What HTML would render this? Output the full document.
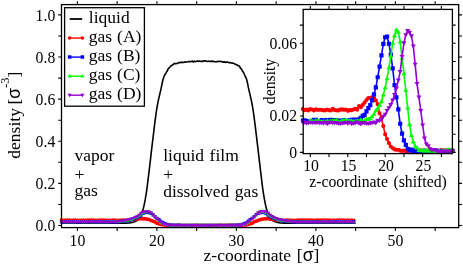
<!DOCTYPE html>
<html><head><meta charset="utf-8"><title>density profile</title>
<style>html,body{margin:0;padding:0;background:#fff;overflow:hidden}svg{display:block;will-change:transform;font-family:"Liberation Serif",serif;font-size:17.5px}</style>
</head><body>
<svg width="463" height="264" viewBox="0 0 463 264" fill="#000">
<rect width="463" height="264" fill="#fff"/>
<clipPath id="cm"><rect x="59.5" y="4.6" width="401.2" height="224.0"/></clipPath>
<g clip-path="url(#cm)">
<polyline points="61.50,223.29 62.30,223.29 63.09,223.29 63.88,223.29 64.68,223.29 65.47,223.29 66.27,223.29 67.06,223.29 67.86,223.29 68.65,223.29 69.45,223.29 70.24,223.29 71.04,223.29 71.83,223.29 72.63,223.29 73.42,223.29 74.22,223.29 75.01,223.29 75.81,223.29 76.60,223.29 77.40,223.29 78.19,223.29 78.99,223.29 79.78,223.29 80.58,223.29 81.37,223.29 82.17,223.29 82.96,223.29 83.76,223.29 84.55,223.29 85.35,223.29 86.14,223.29 86.94,223.29 87.73,223.29 88.53,223.29 89.32,223.29 90.12,223.29 90.91,223.29 91.71,223.29 92.50,223.29 93.30,223.29 94.09,223.29 94.89,223.29 95.68,223.29 96.48,223.29 97.27,223.29 98.07,223.29 98.86,223.29 99.66,223.29 100.45,223.29 101.25,223.29 102.04,223.29 102.84,223.29 103.63,223.29 104.43,223.29 105.22,223.29 106.02,223.29 106.81,223.29 107.61,223.29 108.40,223.29 109.20,223.29 109.99,223.29 110.79,223.29 111.58,223.29 112.38,223.29 113.17,223.29 113.97,223.29 114.76,223.29 115.56,223.28 116.35,223.28 117.15,223.28 117.94,223.27 118.74,223.27 119.53,223.26 120.33,223.26 121.12,223.25 121.92,223.24 122.71,223.22 123.51,223.21 124.30,223.18 125.10,223.16 125.89,223.12 126.69,223.09 127.48,223.05 128.28,223.01 129.07,222.95 129.87,222.86 130.66,222.74 131.46,222.59 132.25,222.40 133.05,222.19 133.84,221.94 134.64,221.66 135.43,221.34 136.23,221.00 137.02,220.53 137.82,219.80 138.61,218.80 139.41,217.56 140.20,216.11 141.00,214.47 141.79,212.66 142.59,210.69 143.38,208.21 144.18,204.83 144.97,200.78 145.77,196.33 146.56,191.36 147.36,185.42 148.15,178.93 148.95,172.31 149.74,165.74 150.54,158.87 151.33,151.92 152.13,145.18 152.92,138.65 153.72,132.02 154.51,125.44 155.31,119.13 156.10,113.26 156.90,108.03 157.69,103.57 158.49,99.71 159.28,96.20 160.08,92.84 160.87,89.41 161.67,85.63 162.46,81.77 163.26,78.83 164.05,76.55 164.85,74.64 165.64,73.75 166.44,72.16 167.23,70.98 168.03,69.11 168.82,68.13 169.62,67.34 170.41,66.53 171.21,65.62 172.00,65.35 172.80,64.94 173.59,64.21 174.39,63.38 175.18,63.78 175.98,63.60 176.77,63.54 177.57,63.39 178.36,62.75 179.16,62.52 179.95,62.60 180.75,62.40 181.54,62.34 182.34,62.24 183.13,62.57 183.93,62.21 184.72,61.99 185.52,62.14 186.31,61.99 187.11,62.01 187.90,61.83 188.70,61.48 189.49,61.76 190.29,61.66 191.08,61.38 191.88,61.40 192.67,61.11 193.47,62.04 194.26,61.28 195.06,61.60 195.85,61.43 196.65,61.23 197.44,61.15 198.24,61.15 199.03,61.35 199.83,60.97 200.62,61.43 201.42,61.38 202.21,61.13 203.01,61.46 203.80,60.77 204.60,61.06 205.39,60.76 206.19,61.32 206.98,61.42 207.78,61.29 208.57,61.16 209.37,61.51 210.16,61.28 210.96,61.40 211.75,61.01 212.55,61.60 213.34,61.19 214.14,61.63 214.93,61.73 215.73,61.68 216.52,61.83 217.32,61.51 218.11,61.31 218.91,61.56 219.70,61.48 220.50,61.26 221.29,61.64 222.09,61.72 222.88,61.89 223.68,62.30 224.47,61.78 225.27,62.49 226.06,61.97 226.86,62.23 227.65,62.03 228.45,62.43 229.24,62.73 230.04,62.56 230.83,62.93 231.63,62.99 232.42,63.11 233.22,63.36 234.01,63.61 234.81,64.04 235.60,64.18 236.40,65.01 237.19,64.92 237.99,65.69 238.78,65.72 239.58,66.41 240.37,68.15 241.17,68.73 241.96,70.03 242.76,71.57 243.55,72.51 244.35,74.18 245.14,76.10 245.94,77.59 246.73,79.84 247.53,83.26 248.32,87.20 249.12,90.81 249.91,94.18 250.71,97.57 251.50,101.20 252.30,105.27 253.09,110.03 253.89,115.54 254.68,121.61 255.48,128.05 256.27,134.67 257.07,141.28 257.86,147.83 258.66,154.69 259.45,161.64 260.25,168.41 261.04,174.95 261.84,181.57 262.63,187.89 263.43,193.48 264.22,198.14 265.02,202.46 265.81,206.27 266.61,209.33 267.40,211.49 268.20,213.40 268.99,215.15 269.79,216.72 270.58,218.08 271.38,219.23 272.17,220.12 272.97,220.75 273.76,221.14 274.56,221.47 275.35,221.77 276.15,222.04 276.94,222.28 277.74,222.48 278.53,222.65 279.33,222.79 280.12,222.90 280.92,222.98 281.71,223.02 282.51,223.07 283.30,223.10 284.10,223.14 284.89,223.17 285.69,223.19 286.48,223.21 287.28,223.23 288.07,223.24 288.87,223.25 289.66,223.26 290.46,223.27 291.25,223.27 292.05,223.27 292.84,223.28 293.64,223.28 294.43,223.28 295.23,223.29 296.02,223.29 296.82,223.29 297.61,223.29 298.41,223.29 299.20,223.29 300.00,223.29 300.79,223.29 301.59,223.29 302.38,223.29 303.18,223.29 303.97,223.29 304.77,223.29 305.56,223.29 306.36,223.29 307.15,223.29 307.95,223.29 308.74,223.29 309.54,223.29 310.33,223.29 311.13,223.29 311.92,223.29 312.72,223.29 313.51,223.29 314.31,223.29 315.10,223.29 315.90,223.29 316.69,223.29 317.49,223.29 318.28,223.29 319.08,223.29 319.87,223.29 320.67,223.29 321.46,223.29 322.26,223.29 323.05,223.29 323.85,223.29 324.64,223.29 325.44,223.29 326.23,223.29 327.03,223.29 327.82,223.29 328.62,223.29 329.41,223.29 330.21,223.29 331.00,223.29 331.80,223.29 332.59,223.29 333.39,223.29 334.18,223.29 334.98,223.29 335.77,223.29 336.57,223.29 337.36,223.29 338.16,223.29 338.95,223.29 339.75,223.29 340.54,223.29 341.34,223.29 342.13,223.29 342.93,223.29 343.72,223.29 344.52,223.29 345.31,223.29 346.11,223.29 346.90,223.29 347.70,223.29 348.49,223.29 349.29,223.29 350.08,223.29 350.88,223.29 351.67,223.29 352.47,223.29 353.26,223.29 354.06,223.29 354.85,223.29 355.65,223.29" fill="none" stroke="#000" stroke-width="1.6" stroke-linejoin="round"/>
<polyline points="61.50,220.27 63.49,220.35 65.48,220.23 67.46,220.26 69.45,220.23 71.44,220.32 73.43,220.17 75.41,220.25 77.40,220.28 79.39,220.31 81.38,220.29 83.36,220.22 85.35,220.29 87.34,220.21 89.33,220.24 91.31,220.19 93.30,220.23 95.29,220.28 97.28,220.40 99.26,220.26 101.25,220.23 103.24,220.27 105.23,220.24 107.21,220.31 109.20,220.30 111.19,220.34 113.18,220.19 115.16,220.27 117.15,220.31 119.14,220.36 121.12,220.27 123.11,220.14 125.10,220.16 127.09,220.18 129.08,219.94 131.06,219.82 133.05,219.68 135.04,219.46 137.03,219.14 139.01,218.92 141.00,218.69 142.99,218.76 144.98,218.77 146.96,219.05 148.95,219.28 150.94,220.44 152.93,221.12 154.91,221.92 156.90,223.22 158.89,223.80 160.88,224.28 162.86,224.65 164.85,224.97 166.84,225.13 168.82,225.16 170.81,225.19 172.80,225.29 174.79,225.31 176.78,225.30 178.76,225.25 180.75,225.38 182.74,225.40 184.73,225.31 186.71,225.38 188.70,225.35 190.69,225.31 192.68,225.29 194.66,225.39 196.65,225.27 198.64,225.43 200.62,225.29 202.61,225.42 204.60,225.40 206.59,225.28 208.58,225.35 210.56,225.37 212.55,225.35 214.54,225.29 216.53,225.32 218.51,225.32 220.50,225.25 222.49,225.36 224.48,225.34 226.46,225.35 228.45,225.24 230.44,225.25 232.43,225.23 234.41,225.31 236.40,225.31 238.39,225.21 240.38,225.25 242.36,225.07 244.35,224.89 246.34,224.73 248.33,224.33 250.31,223.83 252.30,223.09 254.29,221.82 256.27,221.17 258.26,220.31 260.25,219.55 262.24,219.05 264.23,218.87 266.21,218.78 268.20,218.69 270.19,219.05 272.18,219.23 274.16,219.50 276.15,219.82 278.14,219.86 280.12,219.97 282.11,220.22 284.10,220.28 286.09,220.19 288.08,220.26 290.06,220.35 292.05,220.30 294.04,220.28 296.02,220.29 298.01,220.22 300.00,220.25 301.99,220.17 303.98,220.19 305.96,220.23 307.95,220.21 309.94,220.19 311.93,220.23 313.91,220.35 315.90,220.22 317.89,220.27 319.88,220.17 321.86,220.27 323.85,220.24 325.84,220.26 327.83,220.17 329.81,220.27 331.80,220.29 333.79,220.26 335.77,220.30 337.76,220.27 339.75,220.28 341.74,220.26 343.73,220.16 345.71,220.30 347.70,220.27 349.69,220.29 351.68,220.23 353.66,220.35" fill="none" stroke="#ff0000" stroke-width="1.4" stroke-linejoin="round"/><path d="M59.60 220.27a1.9 1.9 0 1 0 3.8 0a1.9 1.9 0 1 0 -3.8 0zM61.59 220.35a1.9 1.9 0 1 0 3.8 0a1.9 1.9 0 1 0 -3.8 0zM63.58 220.23a1.9 1.9 0 1 0 3.8 0a1.9 1.9 0 1 0 -3.8 0zM65.56 220.26a1.9 1.9 0 1 0 3.8 0a1.9 1.9 0 1 0 -3.8 0zM67.55 220.23a1.9 1.9 0 1 0 3.8 0a1.9 1.9 0 1 0 -3.8 0zM69.54 220.32a1.9 1.9 0 1 0 3.8 0a1.9 1.9 0 1 0 -3.8 0zM71.53 220.17a1.9 1.9 0 1 0 3.8 0a1.9 1.9 0 1 0 -3.8 0zM73.51 220.25a1.9 1.9 0 1 0 3.8 0a1.9 1.9 0 1 0 -3.8 0zM75.50 220.28a1.9 1.9 0 1 0 3.8 0a1.9 1.9 0 1 0 -3.8 0zM77.49 220.31a1.9 1.9 0 1 0 3.8 0a1.9 1.9 0 1 0 -3.8 0zM79.47 220.29a1.9 1.9 0 1 0 3.8 0a1.9 1.9 0 1 0 -3.8 0zM81.46 220.22a1.9 1.9 0 1 0 3.8 0a1.9 1.9 0 1 0 -3.8 0zM83.45 220.29a1.9 1.9 0 1 0 3.8 0a1.9 1.9 0 1 0 -3.8 0zM85.44 220.21a1.9 1.9 0 1 0 3.8 0a1.9 1.9 0 1 0 -3.8 0zM87.42 220.24a1.9 1.9 0 1 0 3.8 0a1.9 1.9 0 1 0 -3.8 0zM89.41 220.19a1.9 1.9 0 1 0 3.8 0a1.9 1.9 0 1 0 -3.8 0zM91.40 220.23a1.9 1.9 0 1 0 3.8 0a1.9 1.9 0 1 0 -3.8 0zM93.39 220.28a1.9 1.9 0 1 0 3.8 0a1.9 1.9 0 1 0 -3.8 0zM95.38 220.40a1.9 1.9 0 1 0 3.8 0a1.9 1.9 0 1 0 -3.8 0zM97.36 220.26a1.9 1.9 0 1 0 3.8 0a1.9 1.9 0 1 0 -3.8 0zM99.35 220.23a1.9 1.9 0 1 0 3.8 0a1.9 1.9 0 1 0 -3.8 0zM101.34 220.27a1.9 1.9 0 1 0 3.8 0a1.9 1.9 0 1 0 -3.8 0zM103.33 220.24a1.9 1.9 0 1 0 3.8 0a1.9 1.9 0 1 0 -3.8 0zM105.31 220.31a1.9 1.9 0 1 0 3.8 0a1.9 1.9 0 1 0 -3.8 0zM107.30 220.30a1.9 1.9 0 1 0 3.8 0a1.9 1.9 0 1 0 -3.8 0zM109.29 220.34a1.9 1.9 0 1 0 3.8 0a1.9 1.9 0 1 0 -3.8 0zM111.28 220.19a1.9 1.9 0 1 0 3.8 0a1.9 1.9 0 1 0 -3.8 0zM113.26 220.27a1.9 1.9 0 1 0 3.8 0a1.9 1.9 0 1 0 -3.8 0zM115.25 220.31a1.9 1.9 0 1 0 3.8 0a1.9 1.9 0 1 0 -3.8 0zM117.24 220.36a1.9 1.9 0 1 0 3.8 0a1.9 1.9 0 1 0 -3.8 0zM119.22 220.27a1.9 1.9 0 1 0 3.8 0a1.9 1.9 0 1 0 -3.8 0zM121.21 220.14a1.9 1.9 0 1 0 3.8 0a1.9 1.9 0 1 0 -3.8 0zM123.20 220.16a1.9 1.9 0 1 0 3.8 0a1.9 1.9 0 1 0 -3.8 0zM125.19 220.18a1.9 1.9 0 1 0 3.8 0a1.9 1.9 0 1 0 -3.8 0zM127.18 219.94a1.9 1.9 0 1 0 3.8 0a1.9 1.9 0 1 0 -3.8 0zM129.16 219.82a1.9 1.9 0 1 0 3.8 0a1.9 1.9 0 1 0 -3.8 0zM131.15 219.68a1.9 1.9 0 1 0 3.8 0a1.9 1.9 0 1 0 -3.8 0zM133.14 219.46a1.9 1.9 0 1 0 3.8 0a1.9 1.9 0 1 0 -3.8 0zM135.12 219.14a1.9 1.9 0 1 0 3.8 0a1.9 1.9 0 1 0 -3.8 0zM137.11 218.92a1.9 1.9 0 1 0 3.8 0a1.9 1.9 0 1 0 -3.8 0zM139.10 218.69a1.9 1.9 0 1 0 3.8 0a1.9 1.9 0 1 0 -3.8 0zM141.09 218.76a1.9 1.9 0 1 0 3.8 0a1.9 1.9 0 1 0 -3.8 0zM143.08 218.77a1.9 1.9 0 1 0 3.8 0a1.9 1.9 0 1 0 -3.8 0zM145.06 219.05a1.9 1.9 0 1 0 3.8 0a1.9 1.9 0 1 0 -3.8 0zM147.05 219.28a1.9 1.9 0 1 0 3.8 0a1.9 1.9 0 1 0 -3.8 0zM149.04 220.44a1.9 1.9 0 1 0 3.8 0a1.9 1.9 0 1 0 -3.8 0zM151.03 221.12a1.9 1.9 0 1 0 3.8 0a1.9 1.9 0 1 0 -3.8 0zM153.01 221.92a1.9 1.9 0 1 0 3.8 0a1.9 1.9 0 1 0 -3.8 0zM155.00 223.22a1.9 1.9 0 1 0 3.8 0a1.9 1.9 0 1 0 -3.8 0zM156.99 223.80a1.9 1.9 0 1 0 3.8 0a1.9 1.9 0 1 0 -3.8 0zM158.97 224.28a1.9 1.9 0 1 0 3.8 0a1.9 1.9 0 1 0 -3.8 0zM160.96 224.65a1.9 1.9 0 1 0 3.8 0a1.9 1.9 0 1 0 -3.8 0zM162.95 224.97a1.9 1.9 0 1 0 3.8 0a1.9 1.9 0 1 0 -3.8 0zM164.94 225.13a1.9 1.9 0 1 0 3.8 0a1.9 1.9 0 1 0 -3.8 0zM166.92 225.16a1.9 1.9 0 1 0 3.8 0a1.9 1.9 0 1 0 -3.8 0zM168.91 225.19a1.9 1.9 0 1 0 3.8 0a1.9 1.9 0 1 0 -3.8 0zM170.90 225.29a1.9 1.9 0 1 0 3.8 0a1.9 1.9 0 1 0 -3.8 0zM172.89 225.31a1.9 1.9 0 1 0 3.8 0a1.9 1.9 0 1 0 -3.8 0zM174.88 225.30a1.9 1.9 0 1 0 3.8 0a1.9 1.9 0 1 0 -3.8 0zM176.86 225.25a1.9 1.9 0 1 0 3.8 0a1.9 1.9 0 1 0 -3.8 0zM178.85 225.38a1.9 1.9 0 1 0 3.8 0a1.9 1.9 0 1 0 -3.8 0zM180.84 225.40a1.9 1.9 0 1 0 3.8 0a1.9 1.9 0 1 0 -3.8 0zM182.83 225.31a1.9 1.9 0 1 0 3.8 0a1.9 1.9 0 1 0 -3.8 0zM184.81 225.38a1.9 1.9 0 1 0 3.8 0a1.9 1.9 0 1 0 -3.8 0zM186.80 225.35a1.9 1.9 0 1 0 3.8 0a1.9 1.9 0 1 0 -3.8 0zM188.79 225.31a1.9 1.9 0 1 0 3.8 0a1.9 1.9 0 1 0 -3.8 0zM190.78 225.29a1.9 1.9 0 1 0 3.8 0a1.9 1.9 0 1 0 -3.8 0zM192.76 225.39a1.9 1.9 0 1 0 3.8 0a1.9 1.9 0 1 0 -3.8 0zM194.75 225.27a1.9 1.9 0 1 0 3.8 0a1.9 1.9 0 1 0 -3.8 0zM196.74 225.43a1.9 1.9 0 1 0 3.8 0a1.9 1.9 0 1 0 -3.8 0zM198.72 225.29a1.9 1.9 0 1 0 3.8 0a1.9 1.9 0 1 0 -3.8 0zM200.71 225.42a1.9 1.9 0 1 0 3.8 0a1.9 1.9 0 1 0 -3.8 0zM202.70 225.40a1.9 1.9 0 1 0 3.8 0a1.9 1.9 0 1 0 -3.8 0zM204.69 225.28a1.9 1.9 0 1 0 3.8 0a1.9 1.9 0 1 0 -3.8 0zM206.68 225.35a1.9 1.9 0 1 0 3.8 0a1.9 1.9 0 1 0 -3.8 0zM208.66 225.37a1.9 1.9 0 1 0 3.8 0a1.9 1.9 0 1 0 -3.8 0zM210.65 225.35a1.9 1.9 0 1 0 3.8 0a1.9 1.9 0 1 0 -3.8 0zM212.64 225.29a1.9 1.9 0 1 0 3.8 0a1.9 1.9 0 1 0 -3.8 0zM214.62 225.32a1.9 1.9 0 1 0 3.8 0a1.9 1.9 0 1 0 -3.8 0zM216.61 225.32a1.9 1.9 0 1 0 3.8 0a1.9 1.9 0 1 0 -3.8 0zM218.60 225.25a1.9 1.9 0 1 0 3.8 0a1.9 1.9 0 1 0 -3.8 0zM220.59 225.36a1.9 1.9 0 1 0 3.8 0a1.9 1.9 0 1 0 -3.8 0zM222.58 225.34a1.9 1.9 0 1 0 3.8 0a1.9 1.9 0 1 0 -3.8 0zM224.56 225.35a1.9 1.9 0 1 0 3.8 0a1.9 1.9 0 1 0 -3.8 0zM226.55 225.24a1.9 1.9 0 1 0 3.8 0a1.9 1.9 0 1 0 -3.8 0zM228.54 225.25a1.9 1.9 0 1 0 3.8 0a1.9 1.9 0 1 0 -3.8 0zM230.53 225.23a1.9 1.9 0 1 0 3.8 0a1.9 1.9 0 1 0 -3.8 0zM232.51 225.31a1.9 1.9 0 1 0 3.8 0a1.9 1.9 0 1 0 -3.8 0zM234.50 225.31a1.9 1.9 0 1 0 3.8 0a1.9 1.9 0 1 0 -3.8 0zM236.49 225.21a1.9 1.9 0 1 0 3.8 0a1.9 1.9 0 1 0 -3.8 0zM238.47 225.25a1.9 1.9 0 1 0 3.8 0a1.9 1.9 0 1 0 -3.8 0zM240.46 225.07a1.9 1.9 0 1 0 3.8 0a1.9 1.9 0 1 0 -3.8 0zM242.45 224.89a1.9 1.9 0 1 0 3.8 0a1.9 1.9 0 1 0 -3.8 0zM244.44 224.73a1.9 1.9 0 1 0 3.8 0a1.9 1.9 0 1 0 -3.8 0zM246.43 224.33a1.9 1.9 0 1 0 3.8 0a1.9 1.9 0 1 0 -3.8 0zM248.41 223.83a1.9 1.9 0 1 0 3.8 0a1.9 1.9 0 1 0 -3.8 0zM250.40 223.09a1.9 1.9 0 1 0 3.8 0a1.9 1.9 0 1 0 -3.8 0zM252.39 221.82a1.9 1.9 0 1 0 3.8 0a1.9 1.9 0 1 0 -3.8 0zM254.37 221.17a1.9 1.9 0 1 0 3.8 0a1.9 1.9 0 1 0 -3.8 0zM256.36 220.31a1.9 1.9 0 1 0 3.8 0a1.9 1.9 0 1 0 -3.8 0zM258.35 219.55a1.9 1.9 0 1 0 3.8 0a1.9 1.9 0 1 0 -3.8 0zM260.34 219.05a1.9 1.9 0 1 0 3.8 0a1.9 1.9 0 1 0 -3.8 0zM262.33 218.87a1.9 1.9 0 1 0 3.8 0a1.9 1.9 0 1 0 -3.8 0zM264.31 218.78a1.9 1.9 0 1 0 3.8 0a1.9 1.9 0 1 0 -3.8 0zM266.30 218.69a1.9 1.9 0 1 0 3.8 0a1.9 1.9 0 1 0 -3.8 0zM268.29 219.05a1.9 1.9 0 1 0 3.8 0a1.9 1.9 0 1 0 -3.8 0zM270.28 219.23a1.9 1.9 0 1 0 3.8 0a1.9 1.9 0 1 0 -3.8 0zM272.26 219.50a1.9 1.9 0 1 0 3.8 0a1.9 1.9 0 1 0 -3.8 0zM274.25 219.82a1.9 1.9 0 1 0 3.8 0a1.9 1.9 0 1 0 -3.8 0zM276.24 219.86a1.9 1.9 0 1 0 3.8 0a1.9 1.9 0 1 0 -3.8 0zM278.23 219.97a1.9 1.9 0 1 0 3.8 0a1.9 1.9 0 1 0 -3.8 0zM280.21 220.22a1.9 1.9 0 1 0 3.8 0a1.9 1.9 0 1 0 -3.8 0zM282.20 220.28a1.9 1.9 0 1 0 3.8 0a1.9 1.9 0 1 0 -3.8 0zM284.19 220.19a1.9 1.9 0 1 0 3.8 0a1.9 1.9 0 1 0 -3.8 0zM286.18 220.26a1.9 1.9 0 1 0 3.8 0a1.9 1.9 0 1 0 -3.8 0zM288.16 220.35a1.9 1.9 0 1 0 3.8 0a1.9 1.9 0 1 0 -3.8 0zM290.15 220.30a1.9 1.9 0 1 0 3.8 0a1.9 1.9 0 1 0 -3.8 0zM292.14 220.28a1.9 1.9 0 1 0 3.8 0a1.9 1.9 0 1 0 -3.8 0zM294.12 220.29a1.9 1.9 0 1 0 3.8 0a1.9 1.9 0 1 0 -3.8 0zM296.11 220.22a1.9 1.9 0 1 0 3.8 0a1.9 1.9 0 1 0 -3.8 0zM298.10 220.25a1.9 1.9 0 1 0 3.8 0a1.9 1.9 0 1 0 -3.8 0zM300.09 220.17a1.9 1.9 0 1 0 3.8 0a1.9 1.9 0 1 0 -3.8 0zM302.08 220.19a1.9 1.9 0 1 0 3.8 0a1.9 1.9 0 1 0 -3.8 0zM304.06 220.23a1.9 1.9 0 1 0 3.8 0a1.9 1.9 0 1 0 -3.8 0zM306.05 220.21a1.9 1.9 0 1 0 3.8 0a1.9 1.9 0 1 0 -3.8 0zM308.04 220.19a1.9 1.9 0 1 0 3.8 0a1.9 1.9 0 1 0 -3.8 0zM310.03 220.23a1.9 1.9 0 1 0 3.8 0a1.9 1.9 0 1 0 -3.8 0zM312.01 220.35a1.9 1.9 0 1 0 3.8 0a1.9 1.9 0 1 0 -3.8 0zM314.00 220.22a1.9 1.9 0 1 0 3.8 0a1.9 1.9 0 1 0 -3.8 0zM315.99 220.27a1.9 1.9 0 1 0 3.8 0a1.9 1.9 0 1 0 -3.8 0zM317.98 220.17a1.9 1.9 0 1 0 3.8 0a1.9 1.9 0 1 0 -3.8 0zM319.96 220.27a1.9 1.9 0 1 0 3.8 0a1.9 1.9 0 1 0 -3.8 0zM321.95 220.24a1.9 1.9 0 1 0 3.8 0a1.9 1.9 0 1 0 -3.8 0zM323.94 220.26a1.9 1.9 0 1 0 3.8 0a1.9 1.9 0 1 0 -3.8 0zM325.93 220.17a1.9 1.9 0 1 0 3.8 0a1.9 1.9 0 1 0 -3.8 0zM327.91 220.27a1.9 1.9 0 1 0 3.8 0a1.9 1.9 0 1 0 -3.8 0zM329.90 220.29a1.9 1.9 0 1 0 3.8 0a1.9 1.9 0 1 0 -3.8 0zM331.89 220.26a1.9 1.9 0 1 0 3.8 0a1.9 1.9 0 1 0 -3.8 0zM333.88 220.30a1.9 1.9 0 1 0 3.8 0a1.9 1.9 0 1 0 -3.8 0zM335.86 220.27a1.9 1.9 0 1 0 3.8 0a1.9 1.9 0 1 0 -3.8 0zM337.85 220.28a1.9 1.9 0 1 0 3.8 0a1.9 1.9 0 1 0 -3.8 0zM339.84 220.26a1.9 1.9 0 1 0 3.8 0a1.9 1.9 0 1 0 -3.8 0zM341.83 220.16a1.9 1.9 0 1 0 3.8 0a1.9 1.9 0 1 0 -3.8 0zM343.81 220.30a1.9 1.9 0 1 0 3.8 0a1.9 1.9 0 1 0 -3.8 0zM345.80 220.27a1.9 1.9 0 1 0 3.8 0a1.9 1.9 0 1 0 -3.8 0zM347.79 220.29a1.9 1.9 0 1 0 3.8 0a1.9 1.9 0 1 0 -3.8 0zM349.78 220.23a1.9 1.9 0 1 0 3.8 0a1.9 1.9 0 1 0 -3.8 0zM351.76 220.35a1.9 1.9 0 1 0 3.8 0a1.9 1.9 0 1 0 -3.8 0z" fill="#ff0000"/>
<polyline points="61.50,221.86 63.49,221.82 65.48,221.78 67.46,221.82 69.45,221.85 71.44,221.87 73.43,221.78 75.41,221.72 77.40,221.79 79.39,221.80 81.38,221.79 83.36,221.87 85.35,221.83 87.34,221.83 89.33,221.80 91.31,221.82 93.30,221.89 95.29,221.74 97.28,221.71 99.26,221.83 101.25,221.79 103.24,221.80 105.23,221.76 107.21,221.91 109.20,221.71 111.19,221.84 113.18,221.71 115.16,221.73 117.15,221.69 119.14,221.55 121.12,221.31 123.11,221.19 125.10,220.91 127.09,220.59 129.08,220.28 131.06,219.65 133.05,219.16 135.04,218.46 137.03,217.38 139.01,216.33 141.00,215.04 142.99,213.47 144.98,212.48 146.96,212.14 148.95,212.66 150.94,213.42 152.93,214.80 154.91,216.60 156.90,218.44 158.89,219.66 160.88,221.33 162.86,222.74 164.85,223.66 166.84,224.39 168.82,224.79 170.81,225.11 172.80,225.18 174.79,225.31 176.78,225.25 178.76,225.19 180.75,225.40 182.74,225.49 184.73,225.38 186.71,225.34 188.70,225.29 190.69,225.29 192.68,225.41 194.66,225.42 196.65,225.29 198.64,225.44 200.62,225.30 202.61,225.39 204.60,225.32 206.59,225.33 208.58,225.32 210.56,225.32 212.55,225.43 214.54,225.35 216.53,225.36 218.51,225.34 220.50,225.28 222.49,225.38 224.48,225.40 226.46,225.40 228.45,225.37 230.44,225.30 232.43,225.38 234.41,225.21 236.40,225.19 238.39,225.09 240.38,224.90 242.36,224.41 244.35,223.67 246.34,222.87 248.33,221.20 250.31,219.60 252.30,218.41 254.29,216.54 256.27,214.71 258.26,213.28 260.25,212.51 262.24,212.00 264.23,212.55 266.21,213.59 268.20,215.19 270.19,216.22 272.18,217.49 274.16,218.45 276.15,219.20 278.14,219.67 280.12,220.19 282.11,220.61 284.10,220.85 286.09,221.05 288.08,221.38 290.06,221.46 292.05,221.64 294.04,221.76 296.02,221.69 298.01,221.86 300.00,221.75 301.99,221.85 303.98,221.79 305.96,221.89 307.95,221.87 309.94,221.75 311.93,221.80 313.91,221.81 315.90,221.84 317.89,221.79 319.88,221.90 321.86,221.89 323.85,221.82 325.84,221.87 327.83,221.86 329.81,221.82 331.80,221.82 333.79,221.83 335.77,221.71 337.76,221.75 339.75,221.74 341.74,221.82 343.73,221.85 345.71,221.91 347.70,221.84 349.69,221.95 351.68,221.85 353.66,221.77" fill="none" stroke="#0000ff" stroke-width="1.4" stroke-linejoin="round"/><path d="M59.85 220.21h3.3v3.3h-3.3zM61.84 220.17h3.3v3.3h-3.3zM63.83 220.13h3.3v3.3h-3.3zM65.81 220.17h3.3v3.3h-3.3zM67.80 220.20h3.3v3.3h-3.3zM69.79 220.22h3.3v3.3h-3.3zM71.78 220.13h3.3v3.3h-3.3zM73.76 220.07h3.3v3.3h-3.3zM75.75 220.14h3.3v3.3h-3.3zM77.74 220.15h3.3v3.3h-3.3zM79.72 220.14h3.3v3.3h-3.3zM81.71 220.22h3.3v3.3h-3.3zM83.70 220.18h3.3v3.3h-3.3zM85.69 220.18h3.3v3.3h-3.3zM87.67 220.15h3.3v3.3h-3.3zM89.66 220.17h3.3v3.3h-3.3zM91.65 220.24h3.3v3.3h-3.3zM93.64 220.09h3.3v3.3h-3.3zM95.62 220.06h3.3v3.3h-3.3zM97.61 220.18h3.3v3.3h-3.3zM99.60 220.14h3.3v3.3h-3.3zM101.59 220.15h3.3v3.3h-3.3zM103.58 220.11h3.3v3.3h-3.3zM105.56 220.26h3.3v3.3h-3.3zM107.55 220.06h3.3v3.3h-3.3zM109.54 220.19h3.3v3.3h-3.3zM111.53 220.06h3.3v3.3h-3.3zM113.51 220.08h3.3v3.3h-3.3zM115.50 220.04h3.3v3.3h-3.3zM117.49 219.90h3.3v3.3h-3.3zM119.47 219.66h3.3v3.3h-3.3zM121.46 219.54h3.3v3.3h-3.3zM123.45 219.26h3.3v3.3h-3.3zM125.44 218.94h3.3v3.3h-3.3zM127.43 218.63h3.3v3.3h-3.3zM129.41 218.00h3.3v3.3h-3.3zM131.40 217.51h3.3v3.3h-3.3zM133.39 216.81h3.3v3.3h-3.3zM135.38 215.73h3.3v3.3h-3.3zM137.36 214.68h3.3v3.3h-3.3zM139.35 213.39h3.3v3.3h-3.3zM141.34 211.82h3.3v3.3h-3.3zM143.33 210.83h3.3v3.3h-3.3zM145.31 210.49h3.3v3.3h-3.3zM147.30 211.01h3.3v3.3h-3.3zM149.29 211.77h3.3v3.3h-3.3zM151.28 213.15h3.3v3.3h-3.3zM153.26 214.95h3.3v3.3h-3.3zM155.25 216.79h3.3v3.3h-3.3zM157.24 218.01h3.3v3.3h-3.3zM159.22 219.68h3.3v3.3h-3.3zM161.21 221.09h3.3v3.3h-3.3zM163.20 222.01h3.3v3.3h-3.3zM165.19 222.74h3.3v3.3h-3.3zM167.17 223.14h3.3v3.3h-3.3zM169.16 223.46h3.3v3.3h-3.3zM171.15 223.53h3.3v3.3h-3.3zM173.14 223.66h3.3v3.3h-3.3zM175.12 223.60h3.3v3.3h-3.3zM177.11 223.54h3.3v3.3h-3.3zM179.10 223.75h3.3v3.3h-3.3zM181.09 223.84h3.3v3.3h-3.3zM183.08 223.73h3.3v3.3h-3.3zM185.06 223.69h3.3v3.3h-3.3zM187.05 223.64h3.3v3.3h-3.3zM189.04 223.64h3.3v3.3h-3.3zM191.03 223.76h3.3v3.3h-3.3zM193.01 223.77h3.3v3.3h-3.3zM195.00 223.64h3.3v3.3h-3.3zM196.99 223.79h3.3v3.3h-3.3zM198.97 223.65h3.3v3.3h-3.3zM200.96 223.74h3.3v3.3h-3.3zM202.95 223.67h3.3v3.3h-3.3zM204.94 223.68h3.3v3.3h-3.3zM206.93 223.67h3.3v3.3h-3.3zM208.91 223.67h3.3v3.3h-3.3zM210.90 223.78h3.3v3.3h-3.3zM212.89 223.70h3.3v3.3h-3.3zM214.88 223.71h3.3v3.3h-3.3zM216.86 223.69h3.3v3.3h-3.3zM218.85 223.63h3.3v3.3h-3.3zM220.84 223.73h3.3v3.3h-3.3zM222.83 223.75h3.3v3.3h-3.3zM224.81 223.75h3.3v3.3h-3.3zM226.80 223.72h3.3v3.3h-3.3zM228.79 223.65h3.3v3.3h-3.3zM230.78 223.73h3.3v3.3h-3.3zM232.76 223.56h3.3v3.3h-3.3zM234.75 223.54h3.3v3.3h-3.3zM236.74 223.44h3.3v3.3h-3.3zM238.72 223.25h3.3v3.3h-3.3zM240.71 222.76h3.3v3.3h-3.3zM242.70 222.02h3.3v3.3h-3.3zM244.69 221.22h3.3v3.3h-3.3zM246.68 219.55h3.3v3.3h-3.3zM248.66 217.95h3.3v3.3h-3.3zM250.65 216.76h3.3v3.3h-3.3zM252.64 214.89h3.3v3.3h-3.3zM254.62 213.06h3.3v3.3h-3.3zM256.61 211.63h3.3v3.3h-3.3zM258.60 210.86h3.3v3.3h-3.3zM260.59 210.35h3.3v3.3h-3.3zM262.58 210.90h3.3v3.3h-3.3zM264.56 211.94h3.3v3.3h-3.3zM266.55 213.54h3.3v3.3h-3.3zM268.54 214.57h3.3v3.3h-3.3zM270.53 215.84h3.3v3.3h-3.3zM272.51 216.80h3.3v3.3h-3.3zM274.50 217.55h3.3v3.3h-3.3zM276.49 218.02h3.3v3.3h-3.3zM278.48 218.54h3.3v3.3h-3.3zM280.46 218.96h3.3v3.3h-3.3zM282.45 219.20h3.3v3.3h-3.3zM284.44 219.40h3.3v3.3h-3.3zM286.43 219.73h3.3v3.3h-3.3zM288.41 219.81h3.3v3.3h-3.3zM290.40 219.99h3.3v3.3h-3.3zM292.39 220.11h3.3v3.3h-3.3zM294.38 220.04h3.3v3.3h-3.3zM296.36 220.21h3.3v3.3h-3.3zM298.35 220.10h3.3v3.3h-3.3zM300.34 220.20h3.3v3.3h-3.3zM302.33 220.14h3.3v3.3h-3.3zM304.31 220.24h3.3v3.3h-3.3zM306.30 220.22h3.3v3.3h-3.3zM308.29 220.10h3.3v3.3h-3.3zM310.28 220.15h3.3v3.3h-3.3zM312.26 220.16h3.3v3.3h-3.3zM314.25 220.19h3.3v3.3h-3.3zM316.24 220.14h3.3v3.3h-3.3zM318.23 220.25h3.3v3.3h-3.3zM320.21 220.24h3.3v3.3h-3.3zM322.20 220.17h3.3v3.3h-3.3zM324.19 220.22h3.3v3.3h-3.3zM326.18 220.21h3.3v3.3h-3.3zM328.16 220.17h3.3v3.3h-3.3zM330.15 220.17h3.3v3.3h-3.3zM332.14 220.18h3.3v3.3h-3.3zM334.12 220.06h3.3v3.3h-3.3zM336.11 220.10h3.3v3.3h-3.3zM338.10 220.09h3.3v3.3h-3.3zM340.09 220.17h3.3v3.3h-3.3zM342.08 220.20h3.3v3.3h-3.3zM344.06 220.26h3.3v3.3h-3.3zM346.05 220.19h3.3v3.3h-3.3zM348.04 220.30h3.3v3.3h-3.3zM350.03 220.20h3.3v3.3h-3.3zM352.01 220.12h3.3v3.3h-3.3z" fill="#0000ff"/>
<polyline points="61.50,221.75 63.49,221.80 65.48,221.91 67.46,221.83 69.45,221.91 71.44,221.80 73.43,221.86 75.41,221.80 77.40,221.69 79.39,221.80 81.38,221.71 83.36,221.85 85.35,221.88 87.34,221.77 89.33,221.75 91.31,221.89 93.30,221.85 95.29,221.95 97.28,221.87 99.26,221.80 101.25,221.86 103.24,221.89 105.23,221.95 107.21,221.83 109.20,221.79 111.19,221.77 113.18,221.74 115.16,221.78 117.15,221.49 119.14,221.44 121.12,221.23 123.11,220.93 125.10,220.84 127.09,220.38 129.08,219.99 131.06,219.42 133.05,218.66 135.04,217.78 137.03,216.78 139.01,215.45 141.00,214.09 142.99,212.73 144.98,211.90 146.96,211.43 148.95,211.77 150.94,212.82 152.93,214.79 154.91,216.79 156.90,218.44 158.89,220.78 160.88,222.50 162.86,223.48 164.85,224.38 166.84,224.77 168.82,225.12 170.81,225.10 172.80,225.33 174.79,225.27 176.78,225.30 178.76,225.38 180.75,225.26 182.74,225.40 184.73,225.36 186.71,225.32 188.70,225.34 190.69,225.29 192.68,225.26 194.66,225.34 196.65,225.35 198.64,225.35 200.62,225.34 202.61,225.27 204.60,225.34 206.59,225.30 208.58,225.33 210.56,225.37 212.55,225.26 214.54,225.38 216.53,225.32 218.51,225.22 220.50,225.38 222.49,225.32 224.48,225.41 226.46,225.35 228.45,225.41 230.44,225.33 232.43,225.34 234.41,225.28 236.40,225.15 238.39,225.17 240.38,225.00 242.36,224.79 244.35,224.39 246.34,223.66 248.33,222.59 250.31,220.59 252.30,218.45 254.29,216.65 256.27,214.83 258.26,212.74 260.25,211.83 262.24,211.37 264.23,211.90 266.21,212.80 268.20,214.11 270.19,215.31 272.18,216.68 274.16,217.87 276.15,218.79 278.14,219.46 280.12,220.09 282.11,220.37 284.10,220.66 286.09,220.95 288.08,221.18 290.06,221.52 292.05,221.71 294.04,221.61 296.02,221.69 298.01,221.91 300.00,221.83 301.99,221.86 303.98,221.82 305.96,221.84 307.95,221.89 309.94,221.84 311.93,221.85 313.91,221.86 315.90,221.97 317.89,222.05 319.88,221.91 321.86,221.96 323.85,221.84 325.84,221.81 327.83,221.84 329.81,221.88 331.80,221.85 333.79,221.78 335.77,221.90 337.76,221.80 339.75,221.81 341.74,221.84 343.73,221.76 345.71,221.90 347.70,221.80 349.69,221.92 351.68,221.91 353.66,221.92" fill="none" stroke="#00ff00" stroke-width="1.4" stroke-linejoin="round"/><path d="M61.50 219.77l1.98 3.30h-3.96zM63.49 219.82l1.98 3.30h-3.96zM65.48 219.93l1.98 3.30h-3.96zM67.46 219.85l1.98 3.30h-3.96zM69.45 219.93l1.98 3.30h-3.96zM71.44 219.82l1.98 3.30h-3.96zM73.43 219.88l1.98 3.30h-3.96zM75.41 219.82l1.98 3.30h-3.96zM77.40 219.71l1.98 3.30h-3.96zM79.39 219.82l1.98 3.30h-3.96zM81.38 219.73l1.98 3.30h-3.96zM83.36 219.87l1.98 3.30h-3.96zM85.35 219.90l1.98 3.30h-3.96zM87.34 219.79l1.98 3.30h-3.96zM89.33 219.77l1.98 3.30h-3.96zM91.31 219.91l1.98 3.30h-3.96zM93.30 219.87l1.98 3.30h-3.96zM95.29 219.97l1.98 3.30h-3.96zM97.28 219.89l1.98 3.30h-3.96zM99.26 219.82l1.98 3.30h-3.96zM101.25 219.88l1.98 3.30h-3.96zM103.24 219.91l1.98 3.30h-3.96zM105.23 219.97l1.98 3.30h-3.96zM107.21 219.85l1.98 3.30h-3.96zM109.20 219.81l1.98 3.30h-3.96zM111.19 219.79l1.98 3.30h-3.96zM113.18 219.76l1.98 3.30h-3.96zM115.16 219.80l1.98 3.30h-3.96zM117.15 219.51l1.98 3.30h-3.96zM119.14 219.46l1.98 3.30h-3.96zM121.12 219.25l1.98 3.30h-3.96zM123.11 218.95l1.98 3.30h-3.96zM125.10 218.86l1.98 3.30h-3.96zM127.09 218.40l1.98 3.30h-3.96zM129.08 218.01l1.98 3.30h-3.96zM131.06 217.44l1.98 3.30h-3.96zM133.05 216.68l1.98 3.30h-3.96zM135.04 215.80l1.98 3.30h-3.96zM137.03 214.80l1.98 3.30h-3.96zM139.01 213.47l1.98 3.30h-3.96zM141.00 212.11l1.98 3.30h-3.96zM142.99 210.75l1.98 3.30h-3.96zM144.98 209.92l1.98 3.30h-3.96zM146.96 209.45l1.98 3.30h-3.96zM148.95 209.79l1.98 3.30h-3.96zM150.94 210.84l1.98 3.30h-3.96zM152.93 212.81l1.98 3.30h-3.96zM154.91 214.81l1.98 3.30h-3.96zM156.90 216.46l1.98 3.30h-3.96zM158.89 218.80l1.98 3.30h-3.96zM160.88 220.52l1.98 3.30h-3.96zM162.86 221.50l1.98 3.30h-3.96zM164.85 222.40l1.98 3.30h-3.96zM166.84 222.79l1.98 3.30h-3.96zM168.82 223.14l1.98 3.30h-3.96zM170.81 223.12l1.98 3.30h-3.96zM172.80 223.35l1.98 3.30h-3.96zM174.79 223.29l1.98 3.30h-3.96zM176.78 223.32l1.98 3.30h-3.96zM178.76 223.40l1.98 3.30h-3.96zM180.75 223.28l1.98 3.30h-3.96zM182.74 223.42l1.98 3.30h-3.96zM184.73 223.38l1.98 3.30h-3.96zM186.71 223.34l1.98 3.30h-3.96zM188.70 223.36l1.98 3.30h-3.96zM190.69 223.31l1.98 3.30h-3.96zM192.68 223.28l1.98 3.30h-3.96zM194.66 223.36l1.98 3.30h-3.96zM196.65 223.37l1.98 3.30h-3.96zM198.64 223.37l1.98 3.30h-3.96zM200.62 223.36l1.98 3.30h-3.96zM202.61 223.29l1.98 3.30h-3.96zM204.60 223.36l1.98 3.30h-3.96zM206.59 223.32l1.98 3.30h-3.96zM208.58 223.35l1.98 3.30h-3.96zM210.56 223.39l1.98 3.30h-3.96zM212.55 223.28l1.98 3.30h-3.96zM214.54 223.40l1.98 3.30h-3.96zM216.53 223.34l1.98 3.30h-3.96zM218.51 223.24l1.98 3.30h-3.96zM220.50 223.40l1.98 3.30h-3.96zM222.49 223.34l1.98 3.30h-3.96zM224.48 223.43l1.98 3.30h-3.96zM226.46 223.37l1.98 3.30h-3.96zM228.45 223.43l1.98 3.30h-3.96zM230.44 223.35l1.98 3.30h-3.96zM232.43 223.36l1.98 3.30h-3.96zM234.41 223.30l1.98 3.30h-3.96zM236.40 223.17l1.98 3.30h-3.96zM238.39 223.19l1.98 3.30h-3.96zM240.38 223.02l1.98 3.30h-3.96zM242.36 222.81l1.98 3.30h-3.96zM244.35 222.41l1.98 3.30h-3.96zM246.34 221.68l1.98 3.30h-3.96zM248.33 220.61l1.98 3.30h-3.96zM250.31 218.61l1.98 3.30h-3.96zM252.30 216.47l1.98 3.30h-3.96zM254.29 214.67l1.98 3.30h-3.96zM256.27 212.85l1.98 3.30h-3.96zM258.26 210.76l1.98 3.30h-3.96zM260.25 209.85l1.98 3.30h-3.96zM262.24 209.39l1.98 3.30h-3.96zM264.23 209.92l1.98 3.30h-3.96zM266.21 210.82l1.98 3.30h-3.96zM268.20 212.13l1.98 3.30h-3.96zM270.19 213.33l1.98 3.30h-3.96zM272.18 214.70l1.98 3.30h-3.96zM274.16 215.89l1.98 3.30h-3.96zM276.15 216.81l1.98 3.30h-3.96zM278.14 217.48l1.98 3.30h-3.96zM280.12 218.11l1.98 3.30h-3.96zM282.11 218.39l1.98 3.30h-3.96zM284.10 218.68l1.98 3.30h-3.96zM286.09 218.97l1.98 3.30h-3.96zM288.08 219.20l1.98 3.30h-3.96zM290.06 219.54l1.98 3.30h-3.96zM292.05 219.73l1.98 3.30h-3.96zM294.04 219.63l1.98 3.30h-3.96zM296.02 219.71l1.98 3.30h-3.96zM298.01 219.93l1.98 3.30h-3.96zM300.00 219.85l1.98 3.30h-3.96zM301.99 219.88l1.98 3.30h-3.96zM303.98 219.84l1.98 3.30h-3.96zM305.96 219.86l1.98 3.30h-3.96zM307.95 219.91l1.98 3.30h-3.96zM309.94 219.86l1.98 3.30h-3.96zM311.93 219.87l1.98 3.30h-3.96zM313.91 219.88l1.98 3.30h-3.96zM315.90 219.99l1.98 3.30h-3.96zM317.89 220.07l1.98 3.30h-3.96zM319.88 219.93l1.98 3.30h-3.96zM321.86 219.98l1.98 3.30h-3.96zM323.85 219.86l1.98 3.30h-3.96zM325.84 219.83l1.98 3.30h-3.96zM327.83 219.86l1.98 3.30h-3.96zM329.81 219.90l1.98 3.30h-3.96zM331.80 219.87l1.98 3.30h-3.96zM333.79 219.80l1.98 3.30h-3.96zM335.77 219.92l1.98 3.30h-3.96zM337.76 219.82l1.98 3.30h-3.96zM339.75 219.83l1.98 3.30h-3.96zM341.74 219.86l1.98 3.30h-3.96zM343.73 219.78l1.98 3.30h-3.96zM345.71 219.92l1.98 3.30h-3.96zM347.70 219.82l1.98 3.30h-3.96zM349.69 219.94l1.98 3.30h-3.96zM351.68 219.93l1.98 3.30h-3.96zM353.66 219.94l1.98 3.30h-3.96z" fill="#00ff00"/>
<polyline points="61.50,222.06 63.49,222.15 65.48,222.08 67.46,222.16 69.45,222.02 71.44,221.97 73.43,222.07 75.41,221.98 77.40,222.05 79.39,221.95 81.38,222.08 83.36,222.19 85.35,221.99 87.34,222.10 89.33,222.15 91.31,222.13 93.30,222.19 95.29,222.10 97.28,222.16 99.26,221.99 101.25,222.05 103.24,222.19 105.23,222.18 107.21,222.11 109.20,222.17 111.19,222.02 113.18,221.96 115.16,221.91 117.15,221.71 119.14,221.41 121.12,221.09 123.11,220.79 125.10,220.50 127.09,220.01 129.08,219.61 131.06,218.93 133.05,218.30 135.04,217.36 137.03,216.49 139.01,215.09 141.00,213.19 142.99,212.01 144.98,211.63 146.96,211.45 148.95,211.78 150.94,212.71 152.93,214.65 154.91,216.95 156.90,218.69 158.89,220.06 160.88,221.75 162.86,223.47 164.85,224.40 166.84,224.72 168.82,224.92 170.81,225.13 172.80,225.19 174.79,225.33 176.78,225.42 178.76,225.31 180.75,225.37 182.74,225.33 184.73,225.46 186.71,225.37 188.70,225.42 190.69,225.33 192.68,225.42 194.66,225.42 196.65,225.42 198.64,225.30 200.62,225.38 202.61,225.43 204.60,225.45 206.59,225.45 208.58,225.29 210.56,225.50 212.55,225.43 214.54,225.34 216.53,225.31 218.51,225.39 220.50,225.33 222.49,225.33 224.48,225.31 226.46,225.37 228.45,225.27 230.44,225.35 232.43,225.24 234.41,225.37 236.40,225.18 238.39,225.22 240.38,225.09 242.36,224.69 244.35,224.31 246.34,223.35 248.33,221.85 250.31,220.04 252.30,218.67 254.29,217.03 256.27,214.58 258.26,212.67 260.25,211.83 262.24,211.38 264.23,211.40 266.21,211.99 268.20,213.19 270.19,215.07 272.18,216.38 274.16,217.50 276.15,218.43 278.14,218.99 280.12,219.63 282.11,219.95 284.10,220.49 286.09,220.94 288.08,221.25 290.06,221.41 292.05,221.72 294.04,221.89 296.02,221.96 298.01,222.00 300.00,222.04 301.99,222.07 303.98,222.00 305.96,221.98 307.95,222.19 309.94,221.92 311.93,222.08 313.91,222.01 315.90,222.13 317.89,222.06 319.88,222.07 321.86,222.08 323.85,222.03 325.84,222.04 327.83,222.15 329.81,222.09 331.80,222.04 333.79,222.04 335.77,222.10 337.76,222.10 339.75,222.09 341.74,222.15 343.73,222.16 345.71,221.98 347.70,222.11 349.69,222.08 351.68,222.13 353.66,222.00" fill="none" stroke="#9400d3" stroke-width="1.4" stroke-linejoin="round"/><path d="M61.50 224.04l1.98 -3.30h-3.96zM63.49 224.13l1.98 -3.30h-3.96zM65.48 224.06l1.98 -3.30h-3.96zM67.46 224.14l1.98 -3.30h-3.96zM69.45 224.00l1.98 -3.30h-3.96zM71.44 223.95l1.98 -3.30h-3.96zM73.43 224.05l1.98 -3.30h-3.96zM75.41 223.96l1.98 -3.30h-3.96zM77.40 224.03l1.98 -3.30h-3.96zM79.39 223.93l1.98 -3.30h-3.96zM81.38 224.06l1.98 -3.30h-3.96zM83.36 224.17l1.98 -3.30h-3.96zM85.35 223.97l1.98 -3.30h-3.96zM87.34 224.08l1.98 -3.30h-3.96zM89.33 224.13l1.98 -3.30h-3.96zM91.31 224.11l1.98 -3.30h-3.96zM93.30 224.17l1.98 -3.30h-3.96zM95.29 224.08l1.98 -3.30h-3.96zM97.28 224.14l1.98 -3.30h-3.96zM99.26 223.97l1.98 -3.30h-3.96zM101.25 224.03l1.98 -3.30h-3.96zM103.24 224.17l1.98 -3.30h-3.96zM105.23 224.16l1.98 -3.30h-3.96zM107.21 224.09l1.98 -3.30h-3.96zM109.20 224.15l1.98 -3.30h-3.96zM111.19 224.00l1.98 -3.30h-3.96zM113.18 223.94l1.98 -3.30h-3.96zM115.16 223.89l1.98 -3.30h-3.96zM117.15 223.69l1.98 -3.30h-3.96zM119.14 223.39l1.98 -3.30h-3.96zM121.12 223.07l1.98 -3.30h-3.96zM123.11 222.77l1.98 -3.30h-3.96zM125.10 222.48l1.98 -3.30h-3.96zM127.09 221.99l1.98 -3.30h-3.96zM129.08 221.59l1.98 -3.30h-3.96zM131.06 220.91l1.98 -3.30h-3.96zM133.05 220.28l1.98 -3.30h-3.96zM135.04 219.34l1.98 -3.30h-3.96zM137.03 218.47l1.98 -3.30h-3.96zM139.01 217.07l1.98 -3.30h-3.96zM141.00 215.17l1.98 -3.30h-3.96zM142.99 213.99l1.98 -3.30h-3.96zM144.98 213.61l1.98 -3.30h-3.96zM146.96 213.43l1.98 -3.30h-3.96zM148.95 213.76l1.98 -3.30h-3.96zM150.94 214.69l1.98 -3.30h-3.96zM152.93 216.63l1.98 -3.30h-3.96zM154.91 218.93l1.98 -3.30h-3.96zM156.90 220.67l1.98 -3.30h-3.96zM158.89 222.04l1.98 -3.30h-3.96zM160.88 223.73l1.98 -3.30h-3.96zM162.86 225.45l1.98 -3.30h-3.96zM164.85 226.38l1.98 -3.30h-3.96zM166.84 226.70l1.98 -3.30h-3.96zM168.82 226.90l1.98 -3.30h-3.96zM170.81 227.11l1.98 -3.30h-3.96zM172.80 227.17l1.98 -3.30h-3.96zM174.79 227.31l1.98 -3.30h-3.96zM176.78 227.40l1.98 -3.30h-3.96zM178.76 227.29l1.98 -3.30h-3.96zM180.75 227.35l1.98 -3.30h-3.96zM182.74 227.31l1.98 -3.30h-3.96zM184.73 227.44l1.98 -3.30h-3.96zM186.71 227.35l1.98 -3.30h-3.96zM188.70 227.40l1.98 -3.30h-3.96zM190.69 227.31l1.98 -3.30h-3.96zM192.68 227.40l1.98 -3.30h-3.96zM194.66 227.40l1.98 -3.30h-3.96zM196.65 227.40l1.98 -3.30h-3.96zM198.64 227.28l1.98 -3.30h-3.96zM200.62 227.36l1.98 -3.30h-3.96zM202.61 227.41l1.98 -3.30h-3.96zM204.60 227.43l1.98 -3.30h-3.96zM206.59 227.43l1.98 -3.30h-3.96zM208.58 227.27l1.98 -3.30h-3.96zM210.56 227.48l1.98 -3.30h-3.96zM212.55 227.41l1.98 -3.30h-3.96zM214.54 227.32l1.98 -3.30h-3.96zM216.53 227.29l1.98 -3.30h-3.96zM218.51 227.37l1.98 -3.30h-3.96zM220.50 227.31l1.98 -3.30h-3.96zM222.49 227.31l1.98 -3.30h-3.96zM224.48 227.29l1.98 -3.30h-3.96zM226.46 227.35l1.98 -3.30h-3.96zM228.45 227.25l1.98 -3.30h-3.96zM230.44 227.33l1.98 -3.30h-3.96zM232.43 227.22l1.98 -3.30h-3.96zM234.41 227.35l1.98 -3.30h-3.96zM236.40 227.16l1.98 -3.30h-3.96zM238.39 227.20l1.98 -3.30h-3.96zM240.38 227.07l1.98 -3.30h-3.96zM242.36 226.67l1.98 -3.30h-3.96zM244.35 226.29l1.98 -3.30h-3.96zM246.34 225.33l1.98 -3.30h-3.96zM248.33 223.83l1.98 -3.30h-3.96zM250.31 222.02l1.98 -3.30h-3.96zM252.30 220.65l1.98 -3.30h-3.96zM254.29 219.01l1.98 -3.30h-3.96zM256.27 216.56l1.98 -3.30h-3.96zM258.26 214.65l1.98 -3.30h-3.96zM260.25 213.81l1.98 -3.30h-3.96zM262.24 213.36l1.98 -3.30h-3.96zM264.23 213.38l1.98 -3.30h-3.96zM266.21 213.97l1.98 -3.30h-3.96zM268.20 215.17l1.98 -3.30h-3.96zM270.19 217.05l1.98 -3.30h-3.96zM272.18 218.36l1.98 -3.30h-3.96zM274.16 219.48l1.98 -3.30h-3.96zM276.15 220.41l1.98 -3.30h-3.96zM278.14 220.97l1.98 -3.30h-3.96zM280.12 221.61l1.98 -3.30h-3.96zM282.11 221.93l1.98 -3.30h-3.96zM284.10 222.47l1.98 -3.30h-3.96zM286.09 222.92l1.98 -3.30h-3.96zM288.08 223.23l1.98 -3.30h-3.96zM290.06 223.39l1.98 -3.30h-3.96zM292.05 223.70l1.98 -3.30h-3.96zM294.04 223.87l1.98 -3.30h-3.96zM296.02 223.94l1.98 -3.30h-3.96zM298.01 223.98l1.98 -3.30h-3.96zM300.00 224.02l1.98 -3.30h-3.96zM301.99 224.05l1.98 -3.30h-3.96zM303.98 223.98l1.98 -3.30h-3.96zM305.96 223.96l1.98 -3.30h-3.96zM307.95 224.17l1.98 -3.30h-3.96zM309.94 223.90l1.98 -3.30h-3.96zM311.93 224.06l1.98 -3.30h-3.96zM313.91 223.99l1.98 -3.30h-3.96zM315.90 224.11l1.98 -3.30h-3.96zM317.89 224.04l1.98 -3.30h-3.96zM319.88 224.05l1.98 -3.30h-3.96zM321.86 224.06l1.98 -3.30h-3.96zM323.85 224.01l1.98 -3.30h-3.96zM325.84 224.02l1.98 -3.30h-3.96zM327.83 224.13l1.98 -3.30h-3.96zM329.81 224.07l1.98 -3.30h-3.96zM331.80 224.02l1.98 -3.30h-3.96zM333.79 224.02l1.98 -3.30h-3.96zM335.77 224.08l1.98 -3.30h-3.96zM337.76 224.08l1.98 -3.30h-3.96zM339.75 224.07l1.98 -3.30h-3.96zM341.74 224.13l1.98 -3.30h-3.96zM343.73 224.14l1.98 -3.30h-3.96zM345.71 223.96l1.98 -3.30h-3.96zM347.70 224.09l1.98 -3.30h-3.96zM349.69 224.06l1.98 -3.30h-3.96zM351.68 224.11l1.98 -3.30h-3.96zM353.66 223.98l1.98 -3.30h-3.96z" fill="#9400d3"/>
</g>
<rect x="61.5" y="4.6" width="397.2" height="223.0" fill="none" stroke="#000" stroke-width="1.3"/>
<path d="M77.40 227.6v3.3M77.40 4.6v-3.3M117.15 227.6v3.3M117.15 4.6v-3.3M156.90 227.6v3.3M156.90 4.6v-3.3M196.65 227.6v3.3M196.65 4.6v-3.3M236.40 227.6v3.3M236.40 4.6v-3.3M276.15 227.6v3.3M276.15 4.6v-3.3M315.90 227.6v3.3M315.90 4.6v-3.3M355.65 227.6v3.3M355.65 4.6v-3.3M395.40 227.6v3.3M395.40 4.6v-3.3M435.15 227.6v3.3M435.15 4.6v-3.3M61.5 225.50h-3.3M458.7 225.50h3.3M61.5 204.44h-3.3M458.7 204.44h3.3M61.5 183.38h-3.3M458.7 183.38h3.3M61.5 162.32h-3.3M458.7 162.32h3.3M61.5 141.26h-3.3M458.7 141.26h3.3M61.5 120.20h-3.3M458.7 120.20h3.3M61.5 99.14h-3.3M458.7 99.14h3.3M61.5 78.08h-3.3M458.7 78.08h3.3M61.5 57.02h-3.3M458.7 57.02h3.3M61.5 35.96h-3.3M458.7 35.96h3.3M61.5 14.90h-3.3M458.7 14.90h3.3" stroke="#000" stroke-width="1.1" fill="none"/>
<text transform="translate(77.40 245.7) scale(1 1.06)" text-anchor="middle" font-size="15.75px">10</text>
<text transform="translate(156.90 245.7) scale(1 1.06)" text-anchor="middle" font-size="15.75px">20</text>
<text transform="translate(236.40 245.7) scale(1 1.06)" text-anchor="middle" font-size="15.75px">30</text>
<text transform="translate(315.90 245.7) scale(1 1.06)" text-anchor="middle" font-size="15.75px">40</text>
<text transform="translate(395.40 245.7) scale(1 1.06)" text-anchor="middle" font-size="15.75px">50</text>
<text transform="translate(55.3 231.30) scale(1 1.06)" text-anchor="end" font-size="15.75px">0.0</text>
<text transform="translate(55.3 189.18) scale(1 1.06)" text-anchor="end" font-size="15.75px">0.2</text>
<text transform="translate(55.3 147.06) scale(1 1.06)" text-anchor="end" font-size="15.75px">0.4</text>
<text transform="translate(55.3 104.94) scale(1 1.06)" text-anchor="end" font-size="15.75px">0.6</text>
<text transform="translate(55.3 62.82) scale(1 1.06)" text-anchor="end" font-size="15.75px">0.8</text>
<text transform="translate(55.3 20.70) scale(1 1.06)" text-anchor="end" font-size="15.75px">1.0</text>
<text x="261.45" y="261" text-anchor="middle" word-spacing="1.4px">z-coordinate [<tspan font-family="Liberation Sans">σ</tspan>]</text>
<text transform="translate(19.5 115.2) rotate(-90)" text-anchor="middle" word-spacing="-0.8px">density [<tspan font-family="Liberation Sans">σ</tspan><tspan dy="-11" font-size="12.4px">-3</tspan><tspan dy="11">]</tspan></text>
<text x="74.6" y="160.9">vapor</text>
<text x="74.6" y="179.5">+</text>
<text x="74.6" y="196.1">gas</text>
<text x="163.2" y="160.9" word-spacing="1.2px">liquid film</text>
<text x="163.2" y="179.6" word-spacing="1.2px">+</text>
<text x="163.2" y="196.7" word-spacing="1.2px">dissolved gas</text>
<rect x="64.6" y="7.7" width="79.8" height="98.5" fill="#fff" stroke="#000" stroke-width="1.3"/>
<path d="M69.7 19.0H82.2" stroke="#000" stroke-width="1.8"/>
<text x="88.8" y="22.7">liquid</text>
<path d="M69.6 38.05H82.4" stroke="#ff0000" stroke-width="1.4"/>
<path d="M67.85 38.05a1.75 1.75 0 1 0 3.5 0a1.75 1.75 0 1 0 -3.5 0zM80.65 38.05a1.75 1.75 0 1 0 3.5 0a1.75 1.75 0 1 0 -3.5 0z" fill="#ff0000"/>
<text x="88.7" y="41.8" word-spacing="0.7px">gas (A)</text>
<path d="M69.6 57.10H82.4" stroke="#0000ff" stroke-width="1.4"/>
<path d="M67.85 55.35h3.5v3.5h-3.5zM80.65 55.35h3.5v3.5h-3.5z" fill="#0000ff"/>
<text x="88.7" y="60.8" word-spacing="0.7px">gas (B)</text>
<path d="M69.6 76.15H82.4" stroke="#00ff00" stroke-width="1.4"/>
<path d="M69.60 74.05l2.10 3.50h-4.20zM82.40 74.05l2.10 3.50h-4.20z" fill="#00ff00"/>
<text x="88.7" y="79.9" word-spacing="0.7px">gas (C)</text>
<path d="M69.6 95.20H82.4" stroke="#9400d3" stroke-width="1.4"/>
<path d="M69.60 97.30l2.10 -3.50h-4.20zM82.40 97.30l2.10 -3.50h-4.20z" fill="#9400d3"/>
<text x="88.7" y="98.9" word-spacing="0.7px">gas (D)</text>
<rect x="303.2" y="9.4" width="149.2" height="144.2" fill="#fff"/>
<clipPath id="ci"><rect x="300.7" y="9.4" width="154.0" height="144.5"/></clipPath>
<g clip-path="url(#ci)">
<polyline points="302.81,109.04 304.68,110.12 306.56,109.72 308.43,110.41 310.30,109.04 312.17,109.49 314.05,110.46 315.92,109.32 317.79,109.80 319.66,109.77 321.54,109.80 323.41,110.36 325.28,110.29 327.15,109.66 329.03,110.03 330.90,110.52 332.77,108.89 334.64,110.12 336.51,110.31 338.39,110.38 340.26,109.63 342.13,109.47 344.00,109.87 345.88,109.53 347.75,110.82 349.62,110.20 351.50,110.11 353.37,109.57 355.24,108.96 357.11,109.76 358.99,106.07 360.86,107.16 362.73,104.89 364.60,102.57 366.48,100.00 368.35,98.12 370.22,98.05 372.09,97.30 373.97,97.67 375.84,100.46 377.71,104.21 379.58,113.25 381.46,118.36 383.33,126.10 385.20,134.36 387.07,139.03 388.94,143.10 390.82,146.51 392.69,148.07 394.56,149.29 396.44,149.81 398.31,149.76 400.18,150.66 402.05,151.00 403.93,150.54 405.80,151.11 407.67,151.46 409.54,150.16 411.42,150.99 413.29,150.73 415.16,150.45 417.03,151.41 418.91,150.46 420.78,150.57 422.65,150.88 424.52,150.61 426.39,151.25 428.27,152.04 430.14,151.00 432.01,151.34 433.88,150.38 435.76,150.71 437.63,151.15 439.50,150.84 441.38,150.13 443.25,150.25 445.12,150.67 446.99,150.64 448.87,151.03 450.74,150.96 452.61,150.57" fill="none" stroke="#ff0000" stroke-width="1.6" stroke-linejoin="round"/><path d="M300.71 109.04a2.1 2.1 0 1 0 4.2 0a2.1 2.1 0 1 0 -4.2 0zM302.58 110.12a2.1 2.1 0 1 0 4.2 0a2.1 2.1 0 1 0 -4.2 0zM304.45 109.72a2.1 2.1 0 1 0 4.2 0a2.1 2.1 0 1 0 -4.2 0zM306.33 110.41a2.1 2.1 0 1 0 4.2 0a2.1 2.1 0 1 0 -4.2 0zM308.20 109.04a2.1 2.1 0 1 0 4.2 0a2.1 2.1 0 1 0 -4.2 0zM310.07 109.49a2.1 2.1 0 1 0 4.2 0a2.1 2.1 0 1 0 -4.2 0zM311.94 110.46a2.1 2.1 0 1 0 4.2 0a2.1 2.1 0 1 0 -4.2 0zM313.82 109.32a2.1 2.1 0 1 0 4.2 0a2.1 2.1 0 1 0 -4.2 0zM315.69 109.80a2.1 2.1 0 1 0 4.2 0a2.1 2.1 0 1 0 -4.2 0zM317.56 109.77a2.1 2.1 0 1 0 4.2 0a2.1 2.1 0 1 0 -4.2 0zM319.44 109.80a2.1 2.1 0 1 0 4.2 0a2.1 2.1 0 1 0 -4.2 0zM321.31 110.36a2.1 2.1 0 1 0 4.2 0a2.1 2.1 0 1 0 -4.2 0zM323.18 110.29a2.1 2.1 0 1 0 4.2 0a2.1 2.1 0 1 0 -4.2 0zM325.05 109.66a2.1 2.1 0 1 0 4.2 0a2.1 2.1 0 1 0 -4.2 0zM326.93 110.03a2.1 2.1 0 1 0 4.2 0a2.1 2.1 0 1 0 -4.2 0zM328.80 110.52a2.1 2.1 0 1 0 4.2 0a2.1 2.1 0 1 0 -4.2 0zM330.67 108.89a2.1 2.1 0 1 0 4.2 0a2.1 2.1 0 1 0 -4.2 0zM332.54 110.12a2.1 2.1 0 1 0 4.2 0a2.1 2.1 0 1 0 -4.2 0zM334.41 110.31a2.1 2.1 0 1 0 4.2 0a2.1 2.1 0 1 0 -4.2 0zM336.29 110.38a2.1 2.1 0 1 0 4.2 0a2.1 2.1 0 1 0 -4.2 0zM338.16 109.63a2.1 2.1 0 1 0 4.2 0a2.1 2.1 0 1 0 -4.2 0zM340.03 109.47a2.1 2.1 0 1 0 4.2 0a2.1 2.1 0 1 0 -4.2 0zM341.90 109.87a2.1 2.1 0 1 0 4.2 0a2.1 2.1 0 1 0 -4.2 0zM343.78 109.53a2.1 2.1 0 1 0 4.2 0a2.1 2.1 0 1 0 -4.2 0zM345.65 110.82a2.1 2.1 0 1 0 4.2 0a2.1 2.1 0 1 0 -4.2 0zM347.52 110.20a2.1 2.1 0 1 0 4.2 0a2.1 2.1 0 1 0 -4.2 0zM349.39 110.11a2.1 2.1 0 1 0 4.2 0a2.1 2.1 0 1 0 -4.2 0zM351.27 109.57a2.1 2.1 0 1 0 4.2 0a2.1 2.1 0 1 0 -4.2 0zM353.14 108.96a2.1 2.1 0 1 0 4.2 0a2.1 2.1 0 1 0 -4.2 0zM355.01 109.76a2.1 2.1 0 1 0 4.2 0a2.1 2.1 0 1 0 -4.2 0zM356.88 106.07a2.1 2.1 0 1 0 4.2 0a2.1 2.1 0 1 0 -4.2 0zM358.76 107.16a2.1 2.1 0 1 0 4.2 0a2.1 2.1 0 1 0 -4.2 0zM360.63 104.89a2.1 2.1 0 1 0 4.2 0a2.1 2.1 0 1 0 -4.2 0zM362.50 102.57a2.1 2.1 0 1 0 4.2 0a2.1 2.1 0 1 0 -4.2 0zM364.38 100.00a2.1 2.1 0 1 0 4.2 0a2.1 2.1 0 1 0 -4.2 0zM366.25 98.12a2.1 2.1 0 1 0 4.2 0a2.1 2.1 0 1 0 -4.2 0zM368.12 98.05a2.1 2.1 0 1 0 4.2 0a2.1 2.1 0 1 0 -4.2 0zM369.99 97.30a2.1 2.1 0 1 0 4.2 0a2.1 2.1 0 1 0 -4.2 0zM371.87 97.67a2.1 2.1 0 1 0 4.2 0a2.1 2.1 0 1 0 -4.2 0zM373.74 100.46a2.1 2.1 0 1 0 4.2 0a2.1 2.1 0 1 0 -4.2 0zM375.61 104.21a2.1 2.1 0 1 0 4.2 0a2.1 2.1 0 1 0 -4.2 0zM377.48 113.25a2.1 2.1 0 1 0 4.2 0a2.1 2.1 0 1 0 -4.2 0zM379.36 118.36a2.1 2.1 0 1 0 4.2 0a2.1 2.1 0 1 0 -4.2 0zM381.23 126.10a2.1 2.1 0 1 0 4.2 0a2.1 2.1 0 1 0 -4.2 0zM383.10 134.36a2.1 2.1 0 1 0 4.2 0a2.1 2.1 0 1 0 -4.2 0zM384.97 139.03a2.1 2.1 0 1 0 4.2 0a2.1 2.1 0 1 0 -4.2 0zM386.84 143.10a2.1 2.1 0 1 0 4.2 0a2.1 2.1 0 1 0 -4.2 0zM388.72 146.51a2.1 2.1 0 1 0 4.2 0a2.1 2.1 0 1 0 -4.2 0zM390.59 148.07a2.1 2.1 0 1 0 4.2 0a2.1 2.1 0 1 0 -4.2 0zM392.46 149.29a2.1 2.1 0 1 0 4.2 0a2.1 2.1 0 1 0 -4.2 0zM394.33 149.81a2.1 2.1 0 1 0 4.2 0a2.1 2.1 0 1 0 -4.2 0zM396.21 149.76a2.1 2.1 0 1 0 4.2 0a2.1 2.1 0 1 0 -4.2 0zM398.08 150.66a2.1 2.1 0 1 0 4.2 0a2.1 2.1 0 1 0 -4.2 0zM399.95 151.00a2.1 2.1 0 1 0 4.2 0a2.1 2.1 0 1 0 -4.2 0zM401.82 150.54a2.1 2.1 0 1 0 4.2 0a2.1 2.1 0 1 0 -4.2 0zM403.70 151.11a2.1 2.1 0 1 0 4.2 0a2.1 2.1 0 1 0 -4.2 0zM405.57 151.46a2.1 2.1 0 1 0 4.2 0a2.1 2.1 0 1 0 -4.2 0zM407.44 150.16a2.1 2.1 0 1 0 4.2 0a2.1 2.1 0 1 0 -4.2 0zM409.31 150.99a2.1 2.1 0 1 0 4.2 0a2.1 2.1 0 1 0 -4.2 0zM411.19 150.73a2.1 2.1 0 1 0 4.2 0a2.1 2.1 0 1 0 -4.2 0zM413.06 150.45a2.1 2.1 0 1 0 4.2 0a2.1 2.1 0 1 0 -4.2 0zM414.93 151.41a2.1 2.1 0 1 0 4.2 0a2.1 2.1 0 1 0 -4.2 0zM416.81 150.46a2.1 2.1 0 1 0 4.2 0a2.1 2.1 0 1 0 -4.2 0zM418.68 150.57a2.1 2.1 0 1 0 4.2 0a2.1 2.1 0 1 0 -4.2 0zM420.55 150.88a2.1 2.1 0 1 0 4.2 0a2.1 2.1 0 1 0 -4.2 0zM422.42 150.61a2.1 2.1 0 1 0 4.2 0a2.1 2.1 0 1 0 -4.2 0zM424.29 151.25a2.1 2.1 0 1 0 4.2 0a2.1 2.1 0 1 0 -4.2 0zM426.17 152.04a2.1 2.1 0 1 0 4.2 0a2.1 2.1 0 1 0 -4.2 0zM428.04 151.00a2.1 2.1 0 1 0 4.2 0a2.1 2.1 0 1 0 -4.2 0zM429.91 151.34a2.1 2.1 0 1 0 4.2 0a2.1 2.1 0 1 0 -4.2 0zM431.78 150.38a2.1 2.1 0 1 0 4.2 0a2.1 2.1 0 1 0 -4.2 0zM433.66 150.71a2.1 2.1 0 1 0 4.2 0a2.1 2.1 0 1 0 -4.2 0zM435.53 151.15a2.1 2.1 0 1 0 4.2 0a2.1 2.1 0 1 0 -4.2 0zM437.40 150.84a2.1 2.1 0 1 0 4.2 0a2.1 2.1 0 1 0 -4.2 0zM439.27 150.13a2.1 2.1 0 1 0 4.2 0a2.1 2.1 0 1 0 -4.2 0zM441.15 150.25a2.1 2.1 0 1 0 4.2 0a2.1 2.1 0 1 0 -4.2 0zM443.02 150.67a2.1 2.1 0 1 0 4.2 0a2.1 2.1 0 1 0 -4.2 0zM444.89 150.64a2.1 2.1 0 1 0 4.2 0a2.1 2.1 0 1 0 -4.2 0zM446.76 151.03a2.1 2.1 0 1 0 4.2 0a2.1 2.1 0 1 0 -4.2 0zM448.64 150.96a2.1 2.1 0 1 0 4.2 0a2.1 2.1 0 1 0 -4.2 0zM450.51 150.57a2.1 2.1 0 1 0 4.2 0a2.1 2.1 0 1 0 -4.2 0z" fill="#ff0000"/>
<polyline points="302.81,120.64 304.68,120.41 306.56,121.18 308.43,121.49 310.30,121.50 312.17,120.81 314.05,119.85 315.92,119.93 317.79,121.12 319.66,121.43 321.54,120.14 323.41,120.32 325.28,121.32 327.15,120.00 329.03,120.48 330.90,119.85 332.77,120.39 334.64,120.09 336.51,120.40 338.39,121.10 340.26,120.70 342.13,120.95 344.00,120.12 345.88,121.12 347.75,121.41 349.62,120.20 351.50,119.95 353.37,119.70 355.24,119.54 357.11,120.41 358.99,119.24 360.86,117.86 362.73,115.81 364.60,114.94 366.48,111.32 368.35,108.06 370.22,105.09 372.09,100.39 373.97,94.40 375.84,87.40 377.71,77.23 379.58,66.66 381.46,55.34 383.33,43.94 385.20,37.26 387.07,36.49 388.94,43.75 390.82,54.61 392.69,68.44 394.56,85.03 396.44,97.42 398.31,109.32 400.18,123.74 402.05,133.70 403.93,140.35 405.80,144.93 407.67,148.77 409.54,150.28 411.42,149.56 413.29,150.58 415.16,152.21 417.03,151.86 418.91,151.13 420.78,151.69 422.65,150.92 424.52,151.14 426.39,150.93 428.27,151.85 430.14,150.89 432.01,150.17 433.88,151.68 435.76,150.54 437.63,150.74 439.50,150.93 441.38,151.33 443.25,151.94 445.12,151.79 446.99,150.91 448.87,150.80 450.74,150.67 452.61,150.82" fill="none" stroke="#0000ff" stroke-width="1.6" stroke-linejoin="round"/><path d="M300.71 118.54h4.2v4.2h-4.2zM302.58 118.31h4.2v4.2h-4.2zM304.45 119.08h4.2v4.2h-4.2zM306.33 119.39h4.2v4.2h-4.2zM308.20 119.40h4.2v4.2h-4.2zM310.07 118.71h4.2v4.2h-4.2zM311.94 117.75h4.2v4.2h-4.2zM313.82 117.83h4.2v4.2h-4.2zM315.69 119.02h4.2v4.2h-4.2zM317.56 119.33h4.2v4.2h-4.2zM319.44 118.04h4.2v4.2h-4.2zM321.31 118.22h4.2v4.2h-4.2zM323.18 119.22h4.2v4.2h-4.2zM325.05 117.90h4.2v4.2h-4.2zM326.93 118.38h4.2v4.2h-4.2zM328.80 117.75h4.2v4.2h-4.2zM330.67 118.29h4.2v4.2h-4.2zM332.54 117.99h4.2v4.2h-4.2zM334.41 118.30h4.2v4.2h-4.2zM336.29 119.00h4.2v4.2h-4.2zM338.16 118.60h4.2v4.2h-4.2zM340.03 118.85h4.2v4.2h-4.2zM341.90 118.02h4.2v4.2h-4.2zM343.78 119.02h4.2v4.2h-4.2zM345.65 119.31h4.2v4.2h-4.2zM347.52 118.10h4.2v4.2h-4.2zM349.39 117.85h4.2v4.2h-4.2zM351.27 117.60h4.2v4.2h-4.2zM353.14 117.44h4.2v4.2h-4.2zM355.01 118.31h4.2v4.2h-4.2zM356.88 117.14h4.2v4.2h-4.2zM358.76 115.76h4.2v4.2h-4.2zM360.63 113.71h4.2v4.2h-4.2zM362.50 112.84h4.2v4.2h-4.2zM364.38 109.22h4.2v4.2h-4.2zM366.25 105.96h4.2v4.2h-4.2zM368.12 102.99h4.2v4.2h-4.2zM369.99 98.29h4.2v4.2h-4.2zM371.87 92.30h4.2v4.2h-4.2zM373.74 85.30h4.2v4.2h-4.2zM375.61 75.13h4.2v4.2h-4.2zM377.48 64.56h4.2v4.2h-4.2zM379.36 53.24h4.2v4.2h-4.2zM381.23 41.84h4.2v4.2h-4.2zM383.10 35.16h4.2v4.2h-4.2zM384.97 34.39h4.2v4.2h-4.2zM386.84 41.65h4.2v4.2h-4.2zM388.72 52.51h4.2v4.2h-4.2zM390.59 66.34h4.2v4.2h-4.2zM392.46 82.93h4.2v4.2h-4.2zM394.33 95.32h4.2v4.2h-4.2zM396.21 107.22h4.2v4.2h-4.2zM398.08 121.64h4.2v4.2h-4.2zM399.95 131.60h4.2v4.2h-4.2zM401.82 138.25h4.2v4.2h-4.2zM403.70 142.83h4.2v4.2h-4.2zM405.57 146.67h4.2v4.2h-4.2zM407.44 148.18h4.2v4.2h-4.2zM409.31 147.46h4.2v4.2h-4.2zM411.19 148.48h4.2v4.2h-4.2zM413.06 150.11h4.2v4.2h-4.2zM414.93 149.76h4.2v4.2h-4.2zM416.81 149.03h4.2v4.2h-4.2zM418.68 149.59h4.2v4.2h-4.2zM420.55 148.82h4.2v4.2h-4.2zM422.42 149.04h4.2v4.2h-4.2zM424.29 148.83h4.2v4.2h-4.2zM426.17 149.75h4.2v4.2h-4.2zM428.04 148.79h4.2v4.2h-4.2zM429.91 148.07h4.2v4.2h-4.2zM431.78 149.58h4.2v4.2h-4.2zM433.66 148.44h4.2v4.2h-4.2zM435.53 148.64h4.2v4.2h-4.2zM437.40 148.83h4.2v4.2h-4.2zM439.27 149.23h4.2v4.2h-4.2zM441.15 149.84h4.2v4.2h-4.2zM443.02 149.69h4.2v4.2h-4.2zM444.89 148.81h4.2v4.2h-4.2zM446.76 148.70h4.2v4.2h-4.2zM448.64 148.57h4.2v4.2h-4.2zM450.51 148.72h4.2v4.2h-4.2z" fill="#0000ff"/>
<polyline points="310.30,120.44 312.17,121.17 314.05,121.59 315.92,120.82 317.79,120.66 319.66,120.89 321.54,121.76 323.41,121.22 325.28,121.74 327.15,120.86 329.03,121.51 330.90,121.03 332.77,120.76 334.64,120.86 336.51,120.19 338.39,121.54 340.26,122.13 342.13,120.42 344.00,120.17 345.88,120.15 347.75,120.78 349.62,120.64 351.50,120.87 353.37,121.64 355.24,121.24 357.11,120.66 358.99,121.25 360.86,119.83 362.73,121.46 364.60,120.45 366.48,119.07 368.35,119.34 370.22,118.33 372.09,116.61 373.97,114.16 375.84,110.68 377.71,108.57 379.58,105.24 381.46,101.48 383.33,94.91 385.20,87.61 387.07,78.46 388.94,67.58 390.82,55.96 392.69,43.28 394.56,35.49 396.44,29.89 398.31,32.02 400.18,41.77 402.05,58.18 403.93,73.60 405.80,90.12 407.67,107.88 409.54,124.58 411.42,135.35 413.29,141.83 415.16,146.15 417.03,147.85 418.91,150.23 420.78,150.59 422.65,150.48 424.52,150.99 426.39,150.37 428.27,150.78 430.14,151.06 432.01,150.66 433.88,151.07 435.76,151.64 437.63,151.42 439.50,151.24 441.38,151.07 443.25,150.76 445.12,150.32 446.99,150.53 448.87,149.86 450.74,150.14 452.61,150.94" fill="none" stroke="#00ff00" stroke-width="1.6" stroke-linejoin="round"/><path d="M310.30 117.92l2.52 4.20h-5.04zM312.17 118.65l2.52 4.20h-5.04zM314.05 119.07l2.52 4.20h-5.04zM315.92 118.30l2.52 4.20h-5.04zM317.79 118.14l2.52 4.20h-5.04zM319.66 118.37l2.52 4.20h-5.04zM321.54 119.24l2.52 4.20h-5.04zM323.41 118.70l2.52 4.20h-5.04zM325.28 119.22l2.52 4.20h-5.04zM327.15 118.34l2.52 4.20h-5.04zM329.03 118.99l2.52 4.20h-5.04zM330.90 118.51l2.52 4.20h-5.04zM332.77 118.24l2.52 4.20h-5.04zM334.64 118.34l2.52 4.20h-5.04zM336.51 117.67l2.52 4.20h-5.04zM338.39 119.02l2.52 4.20h-5.04zM340.26 119.61l2.52 4.20h-5.04zM342.13 117.90l2.52 4.20h-5.04zM344.00 117.65l2.52 4.20h-5.04zM345.88 117.63l2.52 4.20h-5.04zM347.75 118.26l2.52 4.20h-5.04zM349.62 118.12l2.52 4.20h-5.04zM351.50 118.35l2.52 4.20h-5.04zM353.37 119.12l2.52 4.20h-5.04zM355.24 118.72l2.52 4.20h-5.04zM357.11 118.14l2.52 4.20h-5.04zM358.99 118.73l2.52 4.20h-5.04zM360.86 117.31l2.52 4.20h-5.04zM362.73 118.94l2.52 4.20h-5.04zM364.60 117.93l2.52 4.20h-5.04zM366.48 116.55l2.52 4.20h-5.04zM368.35 116.82l2.52 4.20h-5.04zM370.22 115.81l2.52 4.20h-5.04zM372.09 114.09l2.52 4.20h-5.04zM373.97 111.64l2.52 4.20h-5.04zM375.84 108.16l2.52 4.20h-5.04zM377.71 106.05l2.52 4.20h-5.04zM379.58 102.72l2.52 4.20h-5.04zM381.46 98.96l2.52 4.20h-5.04zM383.33 92.39l2.52 4.20h-5.04zM385.20 85.09l2.52 4.20h-5.04zM387.07 75.94l2.52 4.20h-5.04zM388.94 65.06l2.52 4.20h-5.04zM390.82 53.44l2.52 4.20h-5.04zM392.69 40.76l2.52 4.20h-5.04zM394.56 32.97l2.52 4.20h-5.04zM396.44 27.37l2.52 4.20h-5.04zM398.31 29.50l2.52 4.20h-5.04zM400.18 39.25l2.52 4.20h-5.04zM402.05 55.66l2.52 4.20h-5.04zM403.93 71.08l2.52 4.20h-5.04zM405.80 87.60l2.52 4.20h-5.04zM407.67 105.36l2.52 4.20h-5.04zM409.54 122.06l2.52 4.20h-5.04zM411.42 132.83l2.52 4.20h-5.04zM413.29 139.31l2.52 4.20h-5.04zM415.16 143.63l2.52 4.20h-5.04zM417.03 145.33l2.52 4.20h-5.04zM418.91 147.71l2.52 4.20h-5.04zM420.78 148.07l2.52 4.20h-5.04zM422.65 147.96l2.52 4.20h-5.04zM424.52 148.47l2.52 4.20h-5.04zM426.39 147.85l2.52 4.20h-5.04zM428.27 148.26l2.52 4.20h-5.04zM430.14 148.54l2.52 4.20h-5.04zM432.01 148.14l2.52 4.20h-5.04zM433.88 148.55l2.52 4.20h-5.04zM435.76 149.12l2.52 4.20h-5.04zM437.63 148.90l2.52 4.20h-5.04zM439.50 148.72l2.52 4.20h-5.04zM441.38 148.55l2.52 4.20h-5.04zM443.25 148.24l2.52 4.20h-5.04zM445.12 147.80l2.52 4.20h-5.04zM446.99 148.01l2.52 4.20h-5.04zM448.87 147.34l2.52 4.20h-5.04zM450.74 147.62l2.52 4.20h-5.04zM452.61 148.42l2.52 4.20h-5.04z" fill="#00ff00"/>
<polyline points="302.81,122.02 304.68,122.28 306.56,123.17 308.43,122.75 310.30,122.33 312.17,122.79 314.05,122.37 315.92,122.71 317.79,122.54 319.66,123.10 321.54,122.72 323.41,123.12 325.28,122.55 327.15,123.84 329.03,122.74 330.90,122.24 332.77,122.61 334.64,122.94 336.51,122.63 338.39,123.38 340.26,123.38 342.13,123.12 344.00,123.00 345.88,122.40 347.75,123.41 349.62,122.38 351.50,123.78 353.37,123.35 355.24,122.94 357.11,122.29 358.99,123.26 360.86,124.09 362.73,122.69 364.60,122.94 366.48,123.51 368.35,123.49 370.22,123.30 372.09,122.76 373.97,122.20 375.84,123.00 377.71,120.48 379.58,120.70 381.46,119.18 383.33,116.52 385.20,114.54 387.07,110.57 388.94,107.85 390.82,104.70 392.69,100.17 394.56,94.75 396.44,88.20 398.31,80.19 400.18,71.64 402.05,56.56 403.93,43.02 405.80,34.86 407.67,30.56 409.54,32.41 411.42,35.96 413.29,46.20 415.16,64.34 417.03,83.60 418.91,97.23 420.78,110.63 422.65,125.15 424.52,138.21 426.39,144.21 428.27,145.99 430.14,148.99 432.01,149.99 433.88,149.61 435.76,150.21 437.63,151.32 439.50,151.50 441.38,151.33 443.25,151.82 445.12,151.01 446.99,151.24 448.87,151.25 450.74,150.92 452.61,150.95" fill="none" stroke="#9400d3" stroke-width="1.6" stroke-linejoin="round"/><path d="M302.81 124.54l2.52 -4.20h-5.04zM304.68 124.80l2.52 -4.20h-5.04zM306.56 125.69l2.52 -4.20h-5.04zM308.43 125.27l2.52 -4.20h-5.04zM310.30 124.85l2.52 -4.20h-5.04zM312.17 125.31l2.52 -4.20h-5.04zM314.05 124.89l2.52 -4.20h-5.04zM315.92 125.23l2.52 -4.20h-5.04zM317.79 125.06l2.52 -4.20h-5.04zM319.66 125.62l2.52 -4.20h-5.04zM321.54 125.24l2.52 -4.20h-5.04zM323.41 125.64l2.52 -4.20h-5.04zM325.28 125.07l2.52 -4.20h-5.04zM327.15 126.36l2.52 -4.20h-5.04zM329.03 125.26l2.52 -4.20h-5.04zM330.90 124.76l2.52 -4.20h-5.04zM332.77 125.13l2.52 -4.20h-5.04zM334.64 125.46l2.52 -4.20h-5.04zM336.51 125.15l2.52 -4.20h-5.04zM338.39 125.90l2.52 -4.20h-5.04zM340.26 125.90l2.52 -4.20h-5.04zM342.13 125.64l2.52 -4.20h-5.04zM344.00 125.52l2.52 -4.20h-5.04zM345.88 124.92l2.52 -4.20h-5.04zM347.75 125.93l2.52 -4.20h-5.04zM349.62 124.90l2.52 -4.20h-5.04zM351.50 126.30l2.52 -4.20h-5.04zM353.37 125.87l2.52 -4.20h-5.04zM355.24 125.46l2.52 -4.20h-5.04zM357.11 124.81l2.52 -4.20h-5.04zM358.99 125.78l2.52 -4.20h-5.04zM360.86 126.61l2.52 -4.20h-5.04zM362.73 125.21l2.52 -4.20h-5.04zM364.60 125.46l2.52 -4.20h-5.04zM366.48 126.03l2.52 -4.20h-5.04zM368.35 126.01l2.52 -4.20h-5.04zM370.22 125.82l2.52 -4.20h-5.04zM372.09 125.28l2.52 -4.20h-5.04zM373.97 124.72l2.52 -4.20h-5.04zM375.84 125.52l2.52 -4.20h-5.04zM377.71 123.00l2.52 -4.20h-5.04zM379.58 123.22l2.52 -4.20h-5.04zM381.46 121.70l2.52 -4.20h-5.04zM383.33 119.04l2.52 -4.20h-5.04zM385.20 117.06l2.52 -4.20h-5.04zM387.07 113.09l2.52 -4.20h-5.04zM388.94 110.37l2.52 -4.20h-5.04zM390.82 107.22l2.52 -4.20h-5.04zM392.69 102.69l2.52 -4.20h-5.04zM394.56 97.27l2.52 -4.20h-5.04zM396.44 90.72l2.52 -4.20h-5.04zM398.31 82.71l2.52 -4.20h-5.04zM400.18 74.16l2.52 -4.20h-5.04zM402.05 59.08l2.52 -4.20h-5.04zM403.93 45.54l2.52 -4.20h-5.04zM405.80 37.38l2.52 -4.20h-5.04zM407.67 33.08l2.52 -4.20h-5.04zM409.54 34.93l2.52 -4.20h-5.04zM411.42 38.48l2.52 -4.20h-5.04zM413.29 48.72l2.52 -4.20h-5.04zM415.16 66.86l2.52 -4.20h-5.04zM417.03 86.12l2.52 -4.20h-5.04zM418.91 99.75l2.52 -4.20h-5.04zM420.78 113.15l2.52 -4.20h-5.04zM422.65 127.67l2.52 -4.20h-5.04zM424.52 140.73l2.52 -4.20h-5.04zM426.39 146.73l2.52 -4.20h-5.04zM428.27 148.51l2.52 -4.20h-5.04zM430.14 151.51l2.52 -4.20h-5.04zM432.01 152.51l2.52 -4.20h-5.04zM433.88 152.13l2.52 -4.20h-5.04zM435.76 152.73l2.52 -4.20h-5.04zM437.63 153.84l2.52 -4.20h-5.04zM439.50 154.02l2.52 -4.20h-5.04zM441.38 153.85l2.52 -4.20h-5.04zM443.25 154.34l2.52 -4.20h-5.04zM445.12 153.53l2.52 -4.20h-5.04zM446.99 153.76l2.52 -4.20h-5.04zM448.87 153.77l2.52 -4.20h-5.04zM450.74 153.44l2.52 -4.20h-5.04zM452.61 153.47l2.52 -4.20h-5.04z" fill="#9400d3"/>
</g>
<rect x="303.2" y="9.4" width="149.2" height="144.2" fill="none" stroke="#000" stroke-width="1.3"/>
<path d="M310.30 153.6v3.3M310.30 9.4v-3.3M329.03 153.6v3.3M329.03 9.4v-3.3M347.75 153.6v3.3M347.75 9.4v-3.3M366.48 153.6v3.3M366.48 9.4v-3.3M385.20 153.6v3.3M385.20 9.4v-3.3M403.93 153.6v3.3M403.93 9.4v-3.3M422.65 153.6v3.3M422.65 9.4v-3.3M441.38 153.6v3.3M441.38 9.4v-3.3M303.2 152.40h-3.3M452.4 152.40h3.3M303.2 134.22h-3.3M452.4 134.22h3.3M303.2 116.04h-3.3M452.4 116.04h3.3M303.2 97.86h-3.3M452.4 97.86h3.3M303.2 79.68h-3.3M452.4 79.68h3.3M303.2 61.50h-3.3M452.4 61.50h3.3M303.2 43.32h-3.3M452.4 43.32h3.3M303.2 25.14h-3.3M452.4 25.14h3.3" stroke="#000" stroke-width="1.1" fill="none"/>
<text transform="translate(311.10 171.4) scale(1 1.06)" text-anchor="middle" font-size="15.75px">10</text>
<text transform="translate(348.55 171.4) scale(1 1.06)" text-anchor="middle" font-size="15.75px">15</text>
<text transform="translate(386.00 171.4) scale(1 1.06)" text-anchor="middle" font-size="15.75px">20</text>
<text transform="translate(423.45 171.4) scale(1 1.06)" text-anchor="middle" font-size="15.75px">25</text>
<text transform="translate(297.1 48.52) scale(1 1.06)" text-anchor="end" font-size="15.75px">0.06</text>
<text transform="translate(297.1 121.24) scale(1 1.06)" text-anchor="end" font-size="15.75px">0.02</text>
<text transform="translate(297.1 157.60) scale(1 1.06)" text-anchor="end" font-size="15.75px">0</text>
<text x="378" y="186.5" text-anchor="middle" word-spacing="1.6px" font-size="15.75px">z-coordinate (shifted)</text>
<text transform="translate(275.2 81.4) rotate(-90)" text-anchor="middle" font-size="15.75px">density</text>
</svg>
</body></html>
